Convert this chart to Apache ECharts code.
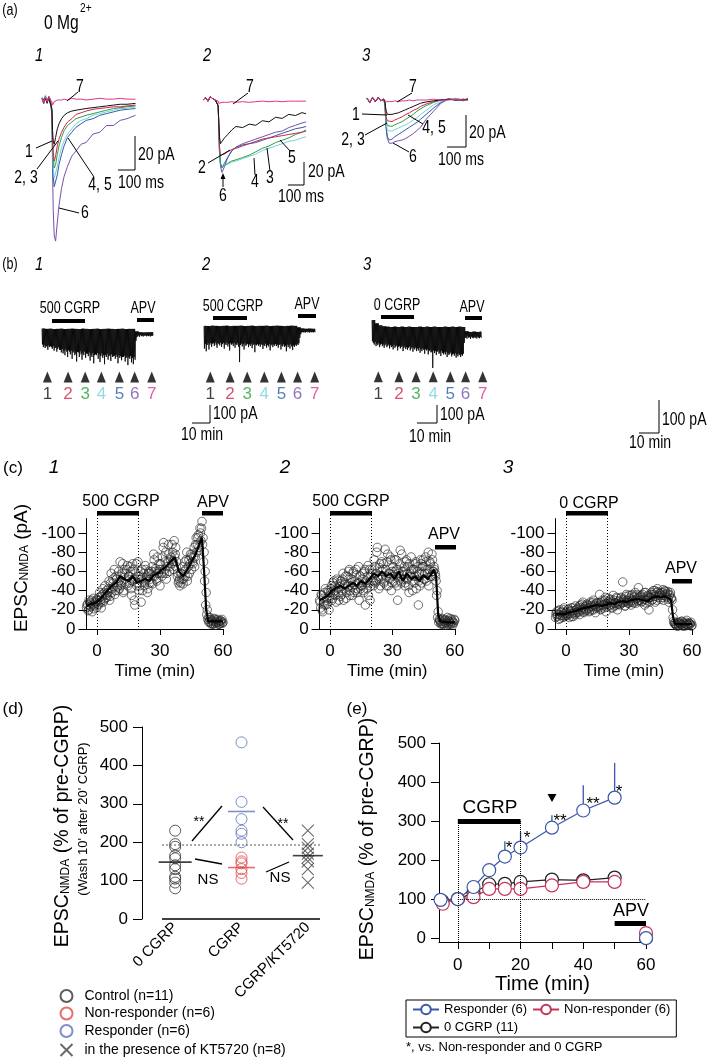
<!DOCTYPE html>
<html>
<head>
<meta charset="utf-8">
<script src="https://cdn.jsdelivr.net/npm/echarts@6.0.0/dist/echarts.min.js"></script>
<style>
html,body{margin:0;padding:0;background:#ffffff;}
#chart{width:725px;height:1059px;}
</style>
</head>
<body>
<div id="chart"></div>
<script>
const SANS = '"Liberation Sans", Arial, Helvetica, sans-serif';
const NARROW_SCALE = 0.78;

// ---------------- (a) sweeps ----------------
const sweepNames = ['1','2','3','4','5','6','7'];
const sweepColors = ['#111111','#d0244e','#2ea040','#79d0dc','#2e5caa','#7552aa','#e0358a'];

// a1 (time ms, current pA)
const tA1 = [0,10,20,30,40,50,58,62,66,72,80,90,100,115,130,150,175,200,230,260,300,340,380,420,460,500,550];
const a1_1 = [0,-1,1,-2,1,0,-5,-18,-24,-26,-22,-17,-14,-11,-9,-7.5,-6.5,-6,-5.5,-5,-4.5,-4,-3.5,-3,-2.5,-2.5,-2];
const a1_2 = [1,-2,1,-1,2,0,-6,-22,-31,-36,-33,-27,-23,-19,-16,-13,-11,-8.5,-7.5,-6.5,-5.5,-5,-4.5,-4,-4,-3.5,-3];
const a1_3 = [1,-1,2,-1,1,0,-6,-24,-34,-40,-38,-32,-27,-22,-18,-15,-13,-11,-10,-9,-8,-7,-6,-5,-4.5,-4,-3.5];
const a1_4 = [2,-1,3,0,2,0,-8,-28,-40,-46,-45,-39,-34,-28,-24,-20,-17,-14,-12,-11,-9,-8,-7,-6,-5,-5,-4];
const a1_5 = [1,-2,2,-1,2,0,-8,-30,-45,-51,-50,-44,-38,-32,-27,-22,-19,-16,-14,-12,-11,-9,-8,-7,-6,-5.5,-5];
const a1_6 = [1,-2,2,-1,2,0,-10,-40,-65,-80,-83,-72,-62,-52,-45,-39,-33,-30,-26,-25,-20,-19,-15,-15,-12,-11,-9];
const a1_7 = [1,-1,2,-1,1,0,-1,-3,-2,-1,-0.5,0,0.5,0,0.5,0,1,0.5,0.5,0,0.5,1,0.5,0.5,1,0.5,0.5];

// a2
const tA2 = [0,15,30,45,60,75,85,92,96,100,106,115,130,150,175,200,240,280,320,360,400,440,480,520,560,600,625];
const a2_1 = [0,2,-1,3,1,0,1,-5,-20,-32,-38,-36,-33,-30,-26,-23,-24,-21,-22,-18,-19,-15,-16,-12.5,-13.5,-11,-12];
const a2_2 = [0,2,-1,3,1,0,1,-5,-22,-40,-48,-49,-47,-45,-43,-42,-40,-38,-36,-34,-33,-32,-31,-30,-29,-28,-27];
const a2_3 = [0,2,-1,3,1,0,1,-5,-24,-44,-55,-58,-57,-55,-53,-52,-50,-48,-45,-42,-40,-37,-35,-33,-30,-28,-26];
const a2_4 = [0,2,-1,3,1,0,1,-5,-24,-44,-55,-58,-57,-56,-54,-53,-51,-49,-47,-44,-42,-40,-38,-36,-35,-33,-32];
const a2_5 = [0,2,-1,3,1,0,1,-5,-25,-45,-56,-59,-55,-50,-44,-41,-39,-38,-37,-35,-33,-31,-29,-27,-25,-24,-23];
const a2_6 = [0,2,-1,3,1,0,1,-5,-25,-45,-58,-63,-58,-50,-44,-41,-38,-36,-34,-32,-30,-28,-27,-24,-22,-20,-19];
const a2_7 = [0,2,-1,3,1,0,1,-1,-3,-2.5,-2,-2,-2,-2,-1.5,-2,-1.5,-2,-1.5,-1,-1.5,-1,-1.5,-1,-1,-1,-1];

// a3
const tA3 = [0,15,30,45,60,75,90,97,100,104,110,120,135,150,170,190,210,230,250,270,290,320,360,400,440,480,520,546];
const a3_1 = [1,-1.5,1.5,-1,1.5,-0.5,0.5,-1,-4,-7,-9,-9.5,-9,-8.5,-8,-7,-6,-5,-4,-3,-2,-1.2,-0.5,0,0.5,0,0,0.5];
const a3_2 = [1,-1.5,1.5,-1,1.5,-0.5,0.5,-2,-7,-11,-13,-14,-13.5,-12.5,-11.5,-10.5,-9,-8,-6.5,-5.5,-4,-2.5,-1,0,0.5,0,0.5,0];
const a3_3 = [1,-1.5,1.5,-1,1.5,-0.5,0.5,-2,-8,-13,-16,-17,-16.5,-15.5,-14.5,-13.5,-12,-10.5,-9,-7,-5.5,-3.5,-1.5,0,0.5,0,0.5,0];
const a3_4 = [1.5,-1,2,-1,1.5,0,0.5,-3,-9,-15,-19,-20,-19.5,-18.5,-17.5,-16.5,-15.5,-14,-12.5,-11,-9,-6.5,-3,-1,0.5,1,0,0.5];
const a3_5 = [1,-1.5,1.5,-1,1.5,-0.5,0.5,-3,-10,-18,-23,-25,-24.5,-23,-21.5,-20,-18.5,-17,-15.5,-14,-12,-9,-5,-1.5,0.5,1,-0.5,0.5];
const a3_6 = [1,-1.5,1.5,-1,1.5,-0.5,0.5,-3,-10,-18,-24,-27,-27,-26,-25.5,-25,-24,-22.5,-21,-19,-17,-12,-7,-2,0.5,1,0,1];
const a3_7 = [1,-1.5,1.5,-1,1.5,-0.5,0.5,0,-0.5,-1,-1,-1,-1,-0.5,-1,-0.5,-0.5,0,-0.5,0,0,0,0.5,0,0,0.5,0,0];

// ---------------- (b) continuous recordings (min, pA) ----------------
const bStep = 0.5;
const b1Dips = [-80,-95,-85,-100,-88,-92,-110,-86,-95,-90,
 -95,-105,-90,-115,-100,-98,-120,-105,-95,-110,
 -110,-125,-105,-130,-115,-140,-108,-120,-150,-112,
 -120,-135,-115,-160,-125,-118,-140,-130,-175,-122,
 -125,-150,-118,-135,-165,-128,-140,-120,-155,-130,
 -132,-145,-125,-170,-138,-150,-128,-185,-140,-135,
 -140,-128,-160,-135,-178,-145,-130,-155,-140,-190,
 -138,-150,-132,-165,-145,-140,-172,-135,-150,-145,
 -142,-160,-138,-150,-185,-140,-155,-145,-168,-150,
 -150,-142,-175,-155,-148,-195,-152,-160,-145,-180,
 -155,-190,-150,-165,-60,-40,
 -35,-30,-38,-28,-34,-32,-36,-30,-33,-29,-35,-31,-34,-30,-36,-32,-33,-30];
const b1Top = [8,6,7,5,6,7,5,6,7,6,5,7,6,5,6,7,5,6,7,6,5,6,7,5,6,6,-8,-12,-14,-13,-12];
const b2Dips = [-120,-95,-135,-100,-90,-125,-98,-88,-110,-92,
 -90,-105,-85,-98,-115,-88,-95,-102,-86,-110,
 -95,-88,-120,-92,-100,-86,-108,-94,-130,-90,
 -98,-92,-105,-88,-115,-95,-100,-90,-110,-195,
 -100,-92,-108,-96,-125,-90,-104,-98,-94,-112,
 -96,-105,-92,-118,-100,-94,-140,-98,-102,-95,
 -104,-96,-110,-94,-100,-122,-98,-106,-92,-115,
 -100,-108,-95,-130,-102,-96,-112,-98,-104,-94,
 -106,-98,-115,-100,-94,-125,-102,-108,-96,-110,
 -104,-135,-98,-112,-100,-120,-96,-108,-128,-102,
 -110,-98,-105,-95,-100,-90,-60,-40,-30,-28,
 -30,-26,-32,-28,-25,-30,-27,-31,-26,-29,-28,-30,-27,-29];
const b2Top = [6,5,7,6,5,6,7,5,6,6,7,5,6,7,5,6,6,7,5,6,7,6,5,6,7,6,-2,-8,-10,-9,-10];
const b3Dips = [-40,-45,-50,-42,-55,-48,-52,-46,-58,-50,
 -48,-55,-50,-60,-52,-47,-58,-54,-50,-62,
 -52,-58,-55,-65,-50,-60,-56,-53,-68,-57,
 -55,-62,-58,-54,-70,-60,-56,-64,-58,-66,
 -60,-56,-68,-62,-58,-72,-60,-65,-59,-70,
 -62,-68,-60,-75,-64,-70,-62,-66,-78,-64,
 -68,-65,-80,-70,-66,-74,-72,-121,-68,-76,
 -70,-82,-72,-68,-78,-74,-85,-70,-76,-80,
 -74,-80,-72,-88,-76,-82,-78,-74,-86,-80,
 -78,-84,-76,-90,-80,-86,-78,-82,-88,-80,
 -84,-78,-45,-30,
 -28,-32,-25,-30,-27,-33,-26,-29,-31,-27,-30,-28,-32,-26,-29,-31,-27,-30];
const b3Top = [24,14,8,5,4,3,4,3,4,3,4,3,3,4,3,4,3,4,3,3,4,3,4,3,4,3,-10,-12,-11,-12,-11];
// sampling times (min) of sweeps 1-7
const b1Marks = [3,14.5,24,33,43,51.5,61];
const b2Marks = [3.5,14.5,24,33.5,43,52,61.5];
const b3Marks = [3.5,15,24.5,34,43.5,52,61.5];

// ---------------- (c) time courses (min, pA) ----------------
const cStart = -5, cStep = 0.5;
const c1Vals = [-22,-26,-20,-28,-24,-30,-25,-21,-29,-27,-31,
 -26,-33,-30,-22,-36,-28,-38,-32,-40,-35,
 -42,-30,-48,-38,-52,-44,-36,-55,-46,-40,
 -50,-70,-45,-58,-38,-62,-52,-47,-66,-55,
 -48,-60,-35,-68,-52,-25,-58,-45,-70,-40,
 -55,-28,-62,-50,-45,-66,-52,-38,-58,-48,
 -52,-60,-47,-78,-55,-63,-50,-58,-68,-45,
 -62,-55,-85,-58,-70,-52,-65,-88,-60,-72,
 -68,-80,-62,-75,-85,-70,-58,-50,-45,-48,
 -52,-47,-60,-55,-72,-50,-65,-58,-78,-62,
 -70,-75,-65,-88,-80,-95,-85,-105,-92,-112,
 -95,-80,-60,-38,
 -20,-12,-8,-10,-5,-8,-6,-10,-4,-7,-9,-5,-8,-6,-10,-7];
const c1ValsB = [-25,-19,-30,-23,-27,-18,-32,-24,-28,-22,
 -30,-25,-38,-28,-34,-42,-30,-45,-36,-33,
 -38,-50,-34,-58,-42,-48,-62,-40,-52,-44,
 -60,-42,-55,-48,-68,-40,-58,-50,-62,-45,
 -55,-65,-42,-50,-62,-30,-52,-68,-48,-55,
 -45,-60,-52,-40,-58,-48,-62,-55,-42,-60,
 -58,-48,-65,-55,-72,-60,-52,-75,-58,-62,
 -68,-58,-75,-90,-62,-80,-58,-70,-78,-65,
 -75,-88,-70,-92,-78,-65,-55,-48,-52,-58,
 -58,-65,-52,-70,-62,-80,-55,-72,-68,-75,
 -78,-68,-85,-75,-95,-88,-98,-82,-100,-105,
 -88,-70,-50,-25,
 -15,-10,-7,-12,-6,-9,-5,-11,-8,-6,-10,-7,-5,-9,-8,-6];
const c2Vals = [-30,-22,-35,-18,-28,-38,-25,-32,-40,-20,-35,
 -42,-30,-48,-36,-45,-28,-50,-38,-44,-34,
 -40,-52,-30,-46,-55,-38,-44,-60,-35,-48,
 -45,-58,-38,-50,-62,-42,-48,-30,-55,-45,
 -52,-40,-60,-25,-48,-55,-35,-62,-45,-50,
 -58,-45,-65,-50,-80,-55,-42,-68,-52,-60,
 -62,-48,-83,-55,-70,-45,-58,-75,-40,-60,
 -55,-72,-48,-62,-30,-58,-68,-50,-78,-56,
 -60,-45,-70,-52,-65,-38,-58,-75,-50,-62,
 -55,-68,-42,-60,-25,-58,-72,-48,-65,-52,
 -58,-75,-50,-62,-45,-70,-55,-78,-60,-65,
 -58,-50,-40,-18,
 -10,-8,-5,-10,-6,-4,-9,-7,-12,-5,-8,-6,-10,-4,-7,-9];
const c2ValsB = [-28,-36,-20,-32,-25,-42,-30,-26,-38,-33,
 -38,-45,-32,-50,-40,-35,-52,-42,-30,-47,
 -50,-36,-58,-42,-48,-32,-55,-45,-62,-40,
 -52,-35,-60,-46,-40,-56,-38,-65,-48,-42,
 -45,-58,-38,-62,-50,-42,-66,-48,-30,-56,
 -62,-50,-72,-48,-58,-85,-52,-64,-45,-70,
 -55,-68,-50,-62,-45,-78,-58,-52,-72,-48,
 -65,-50,-60,-72,-45,-62,-55,-82,-48,-60,
 -52,-65,-48,-72,-58,-45,-68,-55,-62,-40,
 -62,-48,-70,-55,-65,-50,-45,-68,-58,-72,
 -65,-52,-70,-58,-80,-62,-68,-55,-72,-60,
 -62,-55,-35,-12,
 -7,-9,-6,-11,-5,-8,-10,-6,-4,-9,-7,-11,-5,-8,-6,-10];
const c3Vals = [-12,-18,-15,-10,-20,-14,-17,-12,-22,-16,-14,
 -15,-20,-12,-18,-22,-16,-13,-19,-24,-17,
 -18,-22,-15,-25,-20,-28,-17,-23,-19,-26,
 -22,-18,-28,-24,-20,-30,-25,-17,-27,-23,
 -24,-36,-20,-28,-25,-22,-30,-18,-26,-32,
 -25,-30,-22,-28,-35,-24,-27,-33,-20,-29,
 -26,-32,-28,-49,-30,-24,-34,-29,-27,-35,
 -30,-25,-36,-28,-33,-38,-27,-32,-43,-30,
 -34,-28,-36,-31,-25,-38,-30,-35,-20,-33,
 -36,-30,-40,-34,-28,-38,-42,-33,-37,-31,
 -35,-38,-30,-40,-36,-33,-39,-28,-36,-32,
 -30,-12,-6,-5,
 -4,-6,-3,-7,-5,-8,-4,-6,-3,-5,-9,-4,-6,-5,-7,-4];
const c3ValsB = [-16,-13,-19,-15,-11,-18,-14,-20,-13,-17,
 -18,-14,-21,-16,-19,-13,-22,-17,-15,-20,
 -21,-17,-24,-19,-22,-26,-18,-21,-24,-20,
 -25,-21,-19,-26,-23,-28,-20,-24,-22,-27,
 -22,-27,-25,-21,-30,-24,-26,-33,-23,-28,
 -28,-24,-31,-26,-22,-30,-27,-25,-32,-26,
 -29,-25,-33,-27,-31,-28,-24,-36,-30,-27,
 -32,-28,-35,-30,-27,-34,-31,-36,-29,-33,
 -30,-35,-29,-33,-38,-31,-27,-34,-32,-28,
 -33,-38,-31,-36,-40,-34,-30,-39,-35,-37,
 -38,-33,-41,-35,-39,-34,-37,-31,-35,-38,
 -32,-20,-8,-6,
 -5,-3,-7,-4,-6,-5,-8,-3,-6,-4,-7,-5,-4,-6,-5,-3];
const cMeanT = [-5,-3,-1,1,3,5,7,9,11,13,15,17,19,21,23,25,27,29,31,33,35,37,39,41,43,45,47,49,50,51,52,53,56,60];
const c1Mean = [-24,-26,-27,-30,-35,-40,-45,-48,-55,-52,-50,-55,-48,-50,-52,-50,-56,-58,-62,-65,-70,-75,-60,-55,-62,-70,-78,-90,-95,-60,-20,-8,-8,-8];
const c2Mean = [-30,-32,-35,-40,-43,-45,-42,-45,-48,-45,-50,-47,-52,-58,-55,-60,-55,-58,-52,-60,-50,-58,-52,-55,-50,-56,-52,-58,-62,-55,-15,-8,-7,-7];
const c3Mean = [-15,-16,-15,-17,-18,-19,-21,-22,-23,-24,-25,-24,-25,-27,-26,-28,-29,-28,-30,-31,-31,-30,-29,-33,-34,-33,-34,-32,-30,-12,-5,-5,-5,-5];
const cTicksX = [0,30,60];
const cTicksY = [-100,-80,-60,-40,-20,0];

// ---------------- (d) ----------------
const dCategories = ['0 CGRP','CGRP','CGRP/KT5720'];
const dControl = [230,195,188,165,158,140,130,110,105,95,80];
const dNonResp = [160,150,145,130,120,105];
const dResp = [460,305,260,230,222,200];
const dKT = [230,195,185,170,160,150,130,95];
const dMeanControl = 148, dMeanNonResp = 134, dMeanResp = 280, dMeanKT = 165;

// ---------------- (e) ----------------
const eRespT = [-5.5,0,5,10,15,20,30,40,50,60];
const eRespV = [98,100,131,174,209,232,283,327,360,0];
const eRespErr = [0,0,6,8,39,40,32,65,89,0];
const eNonT = [-4.8,0,5,10,15,20,30,40,50,60];
const eNonV = [88,100,105,126,126,126,135,144,144,13];
const eCtrlT = [-5,0,5,10,15,20,30,40,50,60];
const eCtrlV = [95,100,116,138,139,144,150,148,155,0];
const eTicksX = [0,10,20,30,40,50,60];
const eLabelsX = [0,20,40,60];
const eTicksY = [0,100,200,300,400,500];

// ================= build =================
const chart = echarts.init(document.getElementById('chart'), null, {renderer:'canvas', width:725, height:1059});

const grids = [
  {left:42, top:79.6, width:93.5, height:170},
  {left:203, top:88.5, width:103.1, height:92},
  {left:367, top:87.2, width:101, height:60.8},
  {left:42, top:322.8, width:111, height:79.2},
  {left:204, top:319.8, width:111.6, height:79.2},
  {left:372, top:314.8, width:111.6, height:85.8},
  {left:86.5, top:518.6, width:136.5, height:110.4},
  {left:319.6, top:518.6, width:135.2, height:110.4},
  {left:555.5, top:518.6, width:136.5, height:110.4},
  {left:142, top:727, width:199, height:192},
  {left:439, top:743, width:207, height:199}
].map(g => Object.assign({outerBoundsMode:'none', containLabel:false}, g));

const hx = (i,min,max) => ({type:'value', gridIndex:i, min, max, show:false});
const xAxes = [hx(0,0,550), hx(1,0,625), hx(2,0,546), hx(3,0,61.7), hx(4,0,62), hx(5,0,62)];
const yAxes = [hx(0,-88,12), hx(1,-70,10), hx(2,-30,8), hx(3,-400,40), hx(4,-400,40), hx(5,-220,40)];

const axLine = {show:true, onZero:false, lineStyle:{color:'#000', width:1}};
function cX(i){
  return {type:'value', gridIndex:i, min:-5, max:60, axisLine:axLine,
    axisTick:{show:true, length:6, customValues:cTicksX, lineStyle:{color:'#000'}},
    axisLabel:{show:true, customValues:cTicksX, color:'#000', fontSize:17, fontFamily:SANS, margin:14},
    splitLine:{show:false}, name:'Time (min)', nameLocation:'middle', nameGap:34,
    nameTextStyle:{color:'#000', fontSize:17, fontFamily:SANS}};
}
function cY(i){
  return {type:'value', gridIndex:i, inverse:true, min:-115, max:0, axisLine:axLine,
    axisTick:{show:true, length:8, customValues:cTicksY, lineStyle:{color:'#000'}},
    axisLabel:{show:true, customValues:cTicksY, color:'#000', fontSize:17, fontFamily:SANS, margin:11},
    splitLine:{show:false}};
}
xAxes.push(cX(6), cX(7), cX(8));
yAxes.push(cY(6), cY(7), cY(8));
// d
xAxes.push({type:'category', gridIndex:9, data:dCategories, axisLine:{show:false}, axisTick:{show:false},
  axisLabel:{rotate:45, color:'#000', fontSize:15, fontFamily:SANS, margin:6}, splitLine:{show:false}});
yAxes.push({type:'value', gridIndex:9, min:0, max:500, interval:100, axisLine:axLine,
  axisTick:{show:true, length:9, lineStyle:{color:'#000'}},
  axisLabel:{color:'#000', fontSize:17, fontFamily:SANS, margin:14}, splitLine:{show:false}});
// e
xAxes.push({type:'value', gridIndex:10, min:-6, max:60, axisLine:axLine,
  axisTick:{show:true, length:7, customValues:eTicksX, lineStyle:{color:'#000'}},
  axisLabel:{customValues:eLabelsX, color:'#000', fontSize:17, fontFamily:SANS, margin:15},
  splitLine:{show:false}, name:'Time (min)', nameLocation:'middle', nameGap:30,
  nameTextStyle:{color:'#000', fontSize:20, fontFamily:SANS}});
yAxes.push({type:'value', gridIndex:10, min:-10, max:500, axisLine:axLine,
  axisTick:{show:true, length:8, customValues:eTicksY, lineStyle:{color:'#000'}},
  axisLabel:{customValues:eTicksY, color:'#000', fontSize:17, fontFamily:SANS, margin:13},
  splitLine:{show:false}});

const series = [];
// (a) sweeps: draw 6,5,4,3,2,1 then 7 on top
const aPanels = [
  [tA1, [a1_1,a1_2,a1_3,a1_4,a1_5,a1_6,a1_7]],
  [tA2, [a2_1,a2_2,a2_3,a2_4,a2_5,a2_6,a2_7]],
  [tA3, [a3_1,a3_2,a3_3,a3_4,a3_5,a3_6,a3_7]]
];
const drawOrder = [5,4,3,2,1,0,6];
aPanels.forEach((p, gi) => {
  drawOrder.forEach(k => {
    series.push({type:'line', name:'sweep '+sweepNames[k], xAxisIndex:gi, yAxisIndex:gi,
      data:p[0].map((t,j)=>[t, p[1][k][j]]), showSymbol:false, symbol:'none', silent:true,
      lineStyle:{width:1, color:sweepColors[k]}, itemStyle:{color:sweepColors[k]}});
  });
});

// (b) recordings as dense zig-zag between the baseline envelope and the downward deflections
function zig(dips, tops){
  const out = [];
  for (let i = 0; i < dips.length; i++){
    const t = i*bStep;
    out.push([t, tops[Math.min(tops.length-1, Math.floor(t/2))]]);
    out.push([t + bStep/2, dips[i]]);
  }
  return out;
}
const bPanels = [[b1Dips,b1Top,b1Marks,-261],[b2Dips,b2Top,b2Marks,-278],[b3Dips,b3Top,b3Marks,-148]];
bPanels.forEach((p, k) => {
  const gi = 3 + k;
  series.push({type:'line', xAxisIndex:gi, yAxisIndex:gi, data:zig(p[0], p[1]), showSymbol:false, symbol:'none',
    silent:true, lineStyle:{width:0.8, color:'#000'}});
  series.push({type:'scatter', xAxisIndex:gi, yAxisIndex:gi, symbol:'triangle', symbolSize:[9,11], silent:true,
    itemStyle:{color:'#000'},
    data:p[2].map((t,j)=>({value:[t, p[3]], label:{show:true, formatter:sweepNames[j], position:'bottom', distance:3,
      color:sweepColors[j], fontSize:17, fontFamily:SANS}}))});
});

// (c)
[[c1Vals,c1ValsB,c1Mean],[c2Vals,c2ValsB,c2Mean],[c3Vals,c3ValsB,c3Mean]].forEach((p,k) => {
  const gi = 6 + k;
  const pts = p[0].map((v,j)=>[cStart + j*cStep, v]).concat(p[1].map((v,j)=>[cStart + cStep/2 + j*cStep, v]));
  series.push({type:'scatter', xAxisIndex:gi, yAxisIndex:gi, symbol:'circle', symbolSize:8.5, silent:true,
    itemStyle:{color:'rgba(0,0,0,0)', borderColor:'#222', borderWidth:0.8}, data:pts});
  series.push({type:'line', xAxisIndex:gi, yAxisIndex:gi, showSymbol:false, symbol:'none', silent:true,
    lineStyle:{width:2.2, color:'#000'}, data:cMeanT.map((t,j)=>[t, p[2][j]])});
});

// (d)
const circ = c => ({color:'rgba(0,0,0,0)', borderColor:c, borderWidth:1});
series.push({name:'in the presence of KT5720 (n=8)', type:'scatter', xAxisIndex:9, yAxisIndex:9,
  symbol:'path://M0,0L10,10M10,0L0,10', symbolSize:12,
  itemStyle:{color:'none', borderColor:'#444', borderWidth:1.1}, data:dKT.map(v=>[2,v])});
series.push({name:'Control (n=11)', type:'scatter', xAxisIndex:9, yAxisIndex:9, symbol:'circle', symbolSize:11,
  itemStyle:circ('#333'), data:dControl.map(v=>[0,v])});
series.push({name:'Responder (n=6)', type:'scatter', xAxisIndex:9, yAxisIndex:9, symbol:'circle', symbolSize:11,
  itemStyle:circ('#5f72b8'), data:dResp.map(v=>[1,v])});
series.push({name:'Non-responder (n=6)', type:'scatter', xAxisIndex:9, yAxisIndex:9, symbol:'circle', symbolSize:11,
  itemStyle:circ('#e04848'), data:dNonResp.map(v=>[1,v])});
series.push({name:'means', type:'scatter', xAxisIndex:9, yAxisIndex:9, symbol:'rect', silent:true, data:[
  {value:[0,dMeanControl], symbolSize:[33,1.6], itemStyle:{color:'#111'}},
  {value:[1,dMeanResp], symbolSize:[27,1.6], itemStyle:{color:'#5f72b8'}},
  {value:[1,dMeanNonResp], symbolSize:[27,1.6], itemStyle:{color:'#e04848'}},
  {value:[2,dMeanKT], symbolSize:[30,1.6], itemStyle:{color:'#111'}}]});

// (e)
function withBreak(ts, vs){
  const d = ts.map((t,j)=>[t, vs[j]]);
  d.splice(d.length-1, 0, [55,'-']);
  return d;
}
const mlDot = {type:'dotted', width:1, color:'#000'};
series.push({name:'0 CGRP (11)', type:'line', xAxisIndex:10, yAxisIndex:10, data:withBreak(eCtrlT,eCtrlV),
  symbol:'circle', symbolSize:13, showSymbol:true, connectNulls:false,
  lineStyle:{color:'#222', width:1.2}, itemStyle:{color:'#fff', borderColor:'#222', borderWidth:1.2},
  markLine:{silent:true, symbol:['none','none'], label:{show:false}, animation:false, data:[
    [{coord:[0,300], lineStyle:{type:'solid', width:5, color:'#000'}},{coord:[20,300]}],
    [{coord:[0,300], lineStyle:mlDot},{coord:[0,-10]}],
    [{coord:[20,300], lineStyle:mlDot},{coord:[20,-10]}],
    [{coord:[0,100], lineStyle:mlDot},{coord:[60,100]}],
    [{coord:[50,38], lineStyle:{type:'solid', width:5, color:'#000'}},{coord:[60,38]}]
  ]}});
series.push({name:'Non-responder (6)', type:'line', xAxisIndex:10, yAxisIndex:10, data:withBreak(eNonT,eNonV),
  symbol:'circle', symbolSize:13, showSymbol:true, connectNulls:false,
  lineStyle:{color:'#c8325a', width:1.2}, itemStyle:{color:'#fff', borderColor:'#c8325a', borderWidth:1.2}});
series.push({type:'custom', xAxisIndex:10, yAxisIndex:10, silent:true,
  data:eRespT.map((t,j)=>[t, eRespV[j], eRespErr[j]]).filter(d=>d[2]>0),
  encode:{x:0, y:1},
  renderItem:(params, api) => {
    const p0 = api.coord([api.value(0), api.value(1)]);
    const p1 = api.coord([api.value(0), api.value(1) + api.value(2)]);
    return {type:'line', shape:{x1:p0[0], y1:p0[1], x2:p1[0], y2:p1[1]}, style:{stroke:'#3a58a8', lineWidth:1.3}};
  }});
series.push({name:'Responder (6)', type:'line', xAxisIndex:10, yAxisIndex:10, data:withBreak(eRespT,eRespV),
  symbol:'circle', symbolSize:13, showSymbol:true, connectNulls:false,
  lineStyle:{color:'#3a58a8', width:1.2}, itemStyle:{color:'#fff', borderColor:'#3a58a8', borderWidth:1.2}});

// ---------------- annotations ----------------
const G = [];
function txt(x, y, text, size, o){
  o = o || {};
  G.push({type:'text', x, y, rotation:o.rot||0, scaleX:o.narrow?NARROW_SCALE:1, silent:true, z:10,
    style:{text, fontSize:size, fontFamily:SANS, fontStyle:o.italic?'italic':'normal',
      fontWeight:o.bold?'bold':'normal', fill:o.color||'#000',
      align:o.align||'center', verticalAlign:'middle', textAlign:o.align||'center', textVerticalAlign:'middle'}});
}
function rich(x, y, text, richStyles, rot){
  G.push({type:'text', x, y, rotation:rot||0, silent:true, z:10,
    style:{text, rich:richStyles, fill:'#000', align:'center', verticalAlign:'middle', textAlign:'center', textVerticalAlign:'middle'}});
}
function ln(points, o){
  o = o || {};
  G.push({type:'polyline', silent:true, z:10, shape:{points},
    style:{stroke:o.color||'#000', lineWidth:o.w||1, fill:null, lineDash:o.dash||null}});
}
function rect(x, y, w, h){
  G.push({type:'rect', silent:true, z:10, shape:{x, y, width:w, height:h}, style:{fill:'#000'}});
}
function tri(points){
  G.push({type:'polygon', silent:true, z:10, shape:{points}, style:{fill:'#000'}});
}
const N = {narrow:true};
const NL = {narrow:true, align:'left'};
const NI = {narrow:true, italic:true};

// (a)
txt(10,11,'(a)',16,N);
txt(44,23,'0 Mg',20,NL);
txt(80,8,'2+',13,NL);
txt(39,56,'1',19,NI); txt(207,56,'2',19,NI); txt(366,56,'3',19,NI);
// a1
txt(80,87,'7',18,N); ln([[67,101],[78,92]]);
txt(29,152,'1',18,N); ln([[36,148],[52,141]]);
txt(26,178,'2, 3',18,N); ln([[37,169],[58,141]]);
txt(100,185,'4, 5',18,N); ln([[94,177],[68,138]]);
txt(85,213,'6',18,N); ln([[59,208],[79,213]]);
ln([[118,170],[135,170],[135,136]]); txt(138,155,'20 pA',18,NL); txt(141,183,'100 ms',18,N);
// a2
txt(250,87,'7',18,N); ln([[233,104],[248,93]]);
txt(202,168,'2',18,N); ln([[208,163],[230,150]]);
txt(223,196,'6',18,N); ln([[223,187],[223,177]]); tri([[220.5,179],[225.5,179],[223,173]]);
txt(255,182,'4',18,N); ln([[255,175],[254,158]]);
txt(270,178,'3',18,N); ln([[270,171],[267,148]]);
txt(292,158,'5',18,N); ln([[290,151],[280,140]]);
ln([[288,185],[304,185],[304,162]]); txt(308,172,'20 pA',18,NL); txt(301,197,'100 ms',18,N);
// a3
txt(413,87,'7',18,N); ln([[397,102],[412,93]]);
txt(356,115,'1',18,N); ln([[362,114],[387,115]]);
txt(353,140,'2, 3',18,N); ln([[365,135],[387,123]]);
txt(434,128,'4, 5',18,N); ln([[423,124],[408,115]]);
txt(413,157,'6',18,N); ln([[409,152],[393,143]]);
ln([[447,147],[466,147],[466,115]]); txt(469,133,'20 pA',18,NL); txt(461,160,'100 ms',18,N);

// (b)
txt(10,265,'(b)',16,N);
txt(39,265,'1',19,NI); txt(206,265,'2',19,NI); txt(367,265,'3',19,NI);
txt(70,309,'500 CGRP',16,N); rect(52,319,33,4); txt(143,309,'APV',16,N); rect(137,318,17,4);
ln([[192,423],[210,423],[210,405]]); txt(213,414,'100 pA',18,NL); txt(202,435,'10 min',18,N);
txt(233,307,'500 CGRP',16,N); rect(213,316,34,4); txt(307,305,'APV',16,N); rect(298,314,18,4);
ln([[417,423],[437,423],[437,405]]); txt(440,415,'100 pA',18,NL); txt(430,437,'10 min',18,N);
txt(397,306,'0 CGRP',16,N); rect(381,315,33,4); txt(472,308,'APV',16,N); rect(465,316,17,4);
ln([[639,433],[659,433],[659,400]]); txt(662,420,'100 pA',18,NL); txt(650,443,'10 min',18,N);

// (c)
txt(13,468,'(c)',17);
txt(54,468,'1',19,{italic:true}); txt(285,468,'2',19,{italic:true}); txt(508,468,'3',19,{italic:true});
const dotS = {dash:[1,2]};
txt(121,502,'500 CGRP',16); rect(97,511,42,4.5); ln([[97.5,515],[97.5,629]],dotS); ln([[138.5,515],[138.5,629]],dotS);
txt(213,503,'APV',16); rect(202,511,21,4.5);
txt(351,502,'500 CGRP',16); rect(330,511,42,4.5); ln([[330.5,515],[330.5,629]],dotS); ln([[371.5,515],[371.5,629]],dotS);
txt(444,535,'APV',16); rect(435,545,21,4.5);
txt(589,504,'0 CGRP',16); rect(566,511,42,4.5); ln([[566.5,515],[566.5,629]],dotS); ln([[607.5,515],[607.5,629]],dotS);
txt(681,569,'APV',16); rect(672,579,20,4.5);
rich(22,568,'{a|EPSC}{b|NMDA}{a| (pA)}',
  {a:{fontSize:19, fontFamily:SANS, fill:'#000', verticalAlign:'bottom'}, b:{fontSize:12, fontFamily:SANS, fill:'#000', verticalAlign:'bottom', padding:[0,0,1,0]}}, Math.PI/2);

// (d)
txt(13,709,'(d)',17);
rich(63,826,'{a|EPSC}{b|NMDA}{a| (% of pre-CGRP)}',
  {a:{fontSize:19.5, fontFamily:SANS, fill:'#000', verticalAlign:'bottom'}, b:{fontSize:12, fontFamily:SANS, fill:'#000', verticalAlign:'bottom', padding:[0,0,1,0]}}, Math.PI/2);
txt(83,819,"(Wash 10' after 20' CGRP)",13,{rot:Math.PI/2});
ln([[162,919],[320,919]],{w:1.5});
ln([[162,845],[320,845]],{dash:[2,2], color:'#555'});
ln([[192,841],[222,806]],{w:1.3}); txt(199,822,'**',14);
ln([[195,859],[222,864]],{w:1.3}); txt(208,880,'NS',15);
ln([[263,807],[293,840]],{w:1.3}); txt(283,824,'**',14);
ln([[266,872],[289,862]],{w:1.3}); txt(280,878,'NS',15);

// (e)
txt(357,709,'(e)',17);
rich(368,839,'{a|EPSC}{b|NMDA}{a| (% of pre-CGRP)}',
  {a:{fontSize:19.5, fontFamily:SANS, fill:'#000', verticalAlign:'bottom'}, b:{fontSize:12, fontFamily:SANS, fill:'#000', verticalAlign:'bottom', padding:[0,0,1,0]}}, Math.PI/2);
txt(490,808,'CGRP',19);
txt(631,911,'APV',18);
tri([[547.5,794],[556.5,794],[552,802]]);
txt(509,848,'*',17); txt(527,838,'*',17); txt(560,821,'**',17); txt(593,804,'**',17); txt(619,792,'*',17);
txt(406,1047,'*, vs. Non-responder and 0 CGRP',13,{align:'left'});

chart.setOption({
  animation:false,
  backgroundColor:'#ffffff',
  textStyle:{fontFamily:SANS},
  grid:grids, xAxis:xAxes, yAxis:yAxes, series,
  legend:[
    {data:['Control (n=11)','Non-responder (n=6)','Responder (n=6)','in the presence of KT5720 (n=8)'],
     orient:'vertical', left:58, top:989, height:110, itemWidth:26, itemHeight:12, itemGap:3.5, padding:0,
     selectedMode:false, textStyle:{fontSize:14, fontFamily:SANS, color:'#000'}},
    {data:['Responder (6)','Non-responder (6)','0 CGRP (11)'],
     orient:'horizontal', left:406, top:1000, width:270, itemWidth:26, itemHeight:12, itemGap:5,
     padding:[3,6,3,6], borderColor:'#000', borderWidth:1, selectedMode:false,
     textStyle:{fontSize:13, fontFamily:SANS, color:'#000'}}
  ],
  graphic:{elements:G}
});
</script>
</body>
</html>
